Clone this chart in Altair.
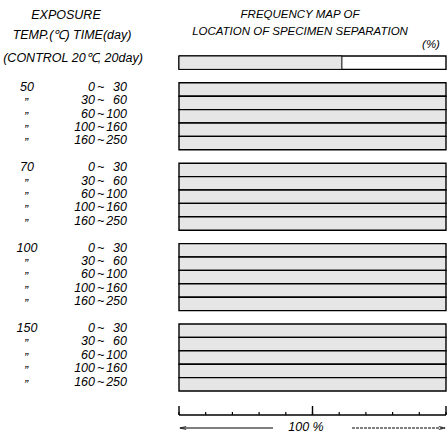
import altair as alt
import pandas as pd

# ---- data ----
temps = ["50", "70", "100", "150"]
time_from = ["0", "30", "60", "100", "160"]
time_to = ["30", "60", "100", "160", "250"]
freq_50 = [100, 100, 100, 100, 100]
freq_70 = [100, 100, 100, 100, 100]
freq_100 = [100, 100, 100, 100, 100]
freq_150 = [100, 100, 100, 100, 100]
control_label = "(CONTROL 20\u2103, 20day)"
control_freq = 61
scale_ticks = [0, 10, 20, 30, 40, 50, 60, 70, 80, 90, 100]
major_ticks = [0, 50, 100]

FONT = "Liberation Sans"
STIPPLE = "#e6e6e6"
ROW = 13.4
TOP = 56

freqs = [freq_50, freq_70, freq_100, freq_150]
rows = []
for g, t in enumerate(temps):
    for r in range(5):
        slot = 2 + 6 * g + r
        rows.append({
            "slot": slot, "slot2": slot + 1, "yc": slot + 0.3,
            "temp": t if r == 0 else "", "ditto": "" if r == 0 else "\u201d",
            "tfrom": time_from[r], "tto": time_to[r],
            "freq": freqs[g][r], "zero": 0,
        })
df = pd.DataFrame(rows)
ctrl = pd.DataFrame([{"slot": 0, "slot2": 1, "zero": 0, "full": 100, "freq": control_freq}])

yscale = alt.Scale(domain=[-TOP / ROW, (434 - TOP) / ROW], range=[0, 434])
xscale = alt.Scale(domain=[0, 100], range=[179, 446])

base = alt.Chart(df)

bars = base.mark_rect(fill=STIPPLE, stroke="black", strokeWidth=1.4).encode(
    x=alt.X("zero:Q", scale=xscale, axis=None),
    x2="freq:Q",
    y=alt.Y("slot:Q", scale=yscale, axis=None),
    y2="slot2:Q",
)

ctrl_full = alt.Chart(ctrl).mark_rect(fill="white", stroke="black", strokeWidth=1.4).encode(
    x=alt.X("zero:Q", scale=xscale, axis=None), x2="full:Q",
    y=alt.Y("slot:Q", scale=yscale, axis=None), y2="slot2:Q",
)
ctrl_part = alt.Chart(ctrl).mark_rect(fill=STIPPLE, stroke="black", strokeWidth=1.0).encode(
    x=alt.X("zero:Q", scale=xscale, axis=None), x2="freq:Q",
    y=alt.Y("slot:Q", scale=yscale, axis=None), y2="slot2:Q",
)

txt = dict(font=FONT, fontStyle="italic", fontSize=12.5, color="black", baseline="middle")

temp_text = base.mark_text(align="center", **txt).encode(
    x=alt.value(27), y=alt.Y("yc:Q", scale=yscale, axis=None), text="temp:N")
ditto_text = base.mark_text(align="center", dy=3, **txt).encode(
    x=alt.value(26), y=alt.Y("yc:Q", scale=yscale, axis=None), text="ditto:N")
from_text = base.mark_text(align="right", **txt).encode(
    x=alt.value(95), y=alt.Y("yc:Q", scale=yscale, axis=None), text="tfrom:N")
tilde_text = base.mark_text(align="left", **txt).encode(
    x=alt.value(97), y=alt.Y("yc:Q", scale=yscale, axis=None), text=alt.value("~"))
to_text = base.mark_text(align="right", **txt).encode(
    x=alt.value(127), y=alt.Y("yc:Q", scale=yscale, axis=None), text="tto:N")

left_titles = pd.DataFrame([
    {"t": "EXPOSURE", "x": 66, "y": 15},
    {"t": "TEMP.(\u2103)  TIME(day)", "x": 72, "y": 35},
    {"t": control_label, "x": 73, "y": 58},
])
right_titles = pd.DataFrame([
    {"t": "FREQUENCY  MAP OF", "x": 300, "y": 15},
    {"t": "LOCATION OF SPECIMEN SEPARATION", "x": 300, "y": 32},
    {"t": "(%)", "x": 431, "y": 45},
])
bottom_titles = pd.DataFrame([{"t": "100 %", "x": 306, "y": 427}])
ltitle_text = alt.Chart(left_titles).mark_text(align="center", **txt).encode(
    x=alt.X("x:Q", scale=None), y=alt.Y("y:Q", scale=None), text="t:N")
rtxt = dict(txt)
rtxt["fontSize"] = 11.5
rtitle_text = alt.Chart(right_titles).mark_text(align="center", **rtxt).encode(
    x=alt.X("x:Q", scale=None), y=alt.Y("y:Q", scale=None), text="t:N")
btitle_text = alt.Chart(bottom_titles).mark_text(align="center", **txt).encode(
    x=alt.X("x:Q", scale=None), y=alt.Y("y:Q", scale=None), text="t:N")

ticks_df = pd.DataFrame({"p": scale_ticks})
major_df = pd.DataFrame({"p": major_ticks})
ruler = alt.Chart(ctrl).mark_rule(color="black", strokeWidth=1.4).encode(
    x=alt.X("zero:Q", scale=xscale, axis=None), x2="full:Q", y=alt.value(415))
minor = alt.Chart(ticks_df).mark_rule(color="black", strokeWidth=1.2).encode(
    x=alt.X("p:Q", scale=xscale, axis=None), y=alt.value(415), y2=alt.value(412))
major = alt.Chart(major_df).mark_rule(color="black", strokeWidth=1.4).encode(
    x=alt.X("p:Q", scale=xscale, axis=None), y=alt.value(415), y2=alt.value(406))

left_arrow = alt.Chart(ctrl).mark_rule(color="black", strokeWidth=1.1).encode(
    x=alt.value(180), x2=alt.value(273), y=alt.value(428))
right_arrow = alt.Chart(ctrl).mark_rule(color="black", strokeWidth=1.0, strokeDash=[3, 1]).encode(
    x=alt.value(352), x2=alt.value(445), y=alt.value(428))
lhead = alt.Chart(ctrl).mark_point(shape="M 1 -0.5 L -1 0 L 1 0.5", filled=False, color="black",
                                   size=40, strokeWidth=1.1).encode(
    x=alt.value(183), y=alt.value(428))
rhead = alt.Chart(ctrl).mark_point(shape="M -1 -0.5 L 1 0 L -1 0.5", filled=False, color="black",
                                   size=40, strokeWidth=1.1).encode(
    x=alt.value(442), y=alt.value(428))

chart = alt.layer(
    ctrl_full, ctrl_part, bars, temp_text, ditto_text, from_text, tilde_text, to_text,
    ltitle_text, rtitle_text, btitle_text, ruler, minor, major,
    left_arrow, right_arrow, lhead, rhead,
).properties(
    width=448, height=434, autosize=alt.AutoSizeParams(type="none"), padding=0,
    background="white",
).configure_view(stroke=None)

chart.save("out.html", embed_options={"renderer": "svg", "actions": False})
